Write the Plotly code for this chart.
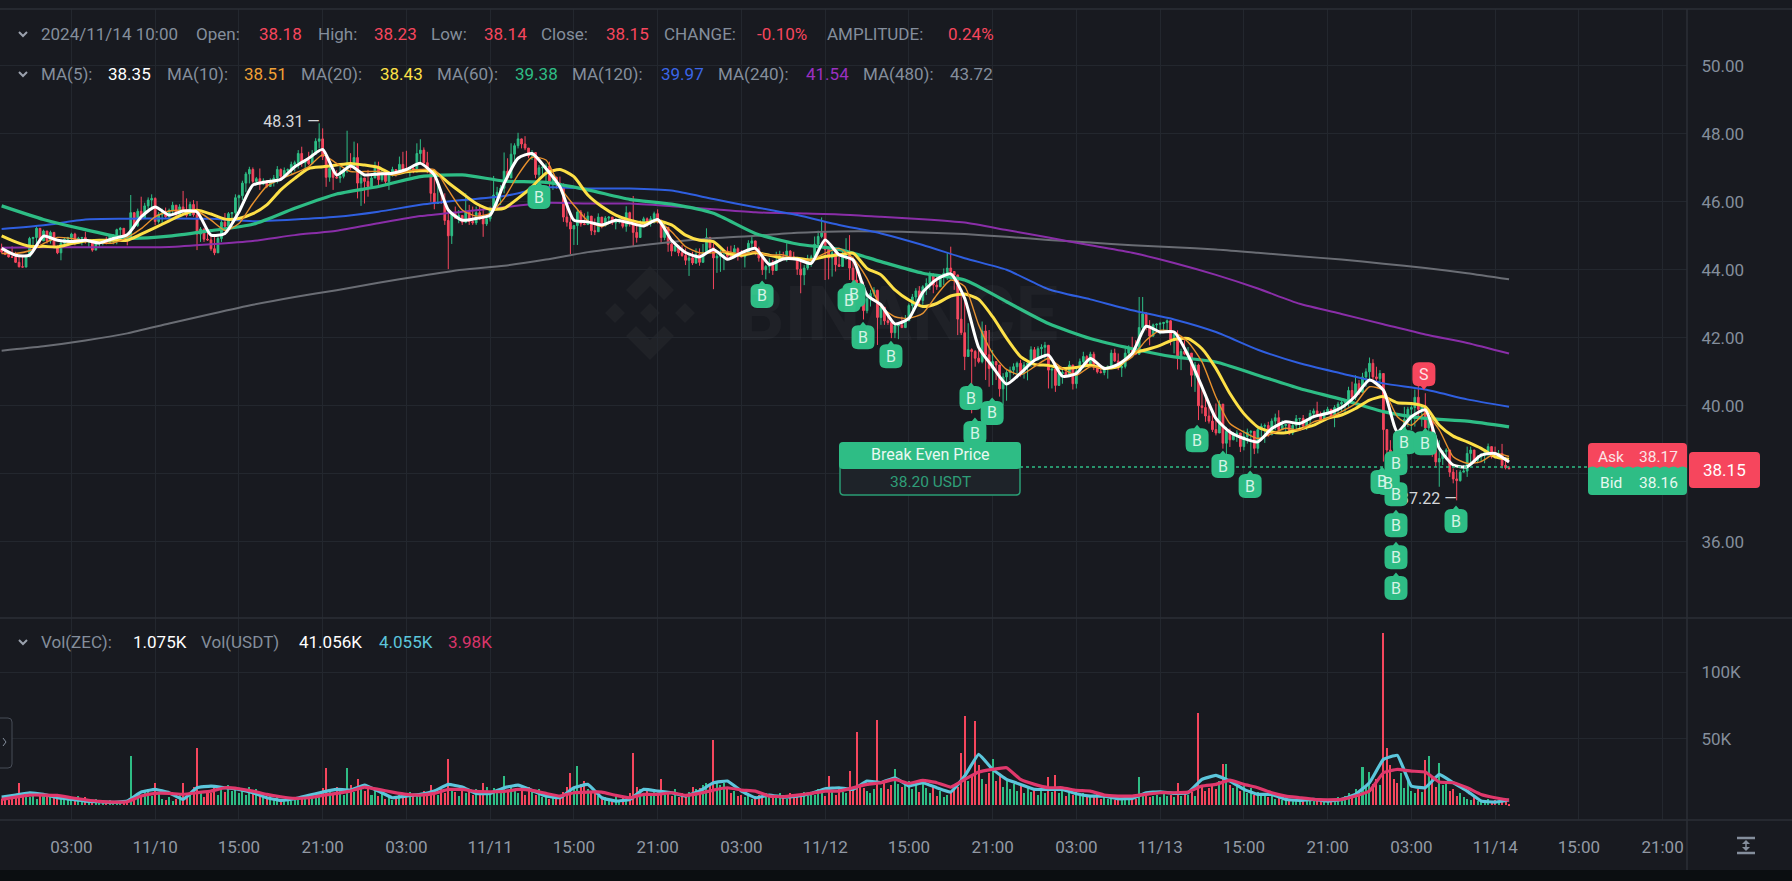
import plotly.graph_objects as go
import pandas as pd

W = 1792
H = 881
GREEN = "#2ebd85"
RED = "#f6465d"
GRAY = "#848e9c"
GRID = "#23272e"
EDGE = "#2b2f36"
BG = "#181a20"

# 15 minute candles
closes = [
    44.62,44.52,44.45,44.38,44.37,44.22,44.09,44.08,44.38,44.92,44.95,45.22,44.85,45.14,44.85,45.10,44.68,44.50,44.78,44.90,
    44.95,45.05,44.78,44.93,44.95,44.82,44.85,44.58,44.78,44.80,44.85,44.78,45.00,45.02,45.18,45.22,44.92,44.90,45.68,45.30,
    45.72,45.52,45.88,46.05,46.10,45.42,45.62,45.68,45.56,45.75,45.90,45.62,45.85,45.75,45.60,45.92,45.62,45.05,45.20,44.90,
    44.88,44.62,44.50,44.92,45.40,45.28,45.65,45.68,46.12,46.18,46.55,46.82,46.95,46.60,46.68,
    46.52,46.62,46.45,46.60,46.70,46.95,46.75,46.92,46.95,47.10,47.15,47.42,47.15,47.22,47.12,47.40,47.78,47.85,47.32,46.72,
    46.98,46.72,46.70,46.75,46.90,47.10,47.00,47.30,46.55,46.70,46.60,46.45,46.70,47.02,46.65,46.85,46.60,46.82,46.95,46.90,
    47.10,46.95,46.92,46.98,46.88,47.42,47.52,47.15,46.95,46.25,45.95,45.98,45.97,45.45,45.00,45.65,45.52,45.60,45.40,45.70,
    45.42,45.38,45.68,45.50,45.35,45.50,45.78,46.20,46.28,46.40,46.90,46.70,47.40,
    47.65,47.85,47.70,47.58,47.35,47.45,46.80,47.00,47.02,47.05,46.60,46.72,46.55,46.42,45.55,45.40,45.20,45.30,45.70,45.35,
    45.33,45.58,45.15,45.12,45.55,45.30,45.52,45.55,45.38,45.45,45.49,45.28,45.68,45.40,45.10,44.95,45.40,45.50,45.38,45.50,
    45.65,45.45,44.95,45.25,44.75,44.55,44.70,44.50,44.42,44.28,44.35,44.20,44.45,44.22,44.50,44.95,44.65,44.35,44.40,44.50,
    44.55,44.40,44.38,44.62,44.40,44.38,44.50,44.78,44.85,44.62,44.35,44.00,44.10,
    44.22,43.98,44.25,44.40,44.32,44.55,44.38,44.32,44.02,43.85,44.05,44.30,44.38,44.75,44.98,45.10,44.60,44.35,44.50,44.15,
    44.10,44.40,44.45,44.05,43.70,43.50,43.25,42.80,43.15,43.30,43.40,42.60,42.90,42.50,42.45,42.15,42.35,42.38,42.30,42.50,
    42.95,43.20,43.38,43.10,43.50,43.60,43.85,43.55,43.50,43.78,43.90,44.05,43.95,43.85,42.55,42.15,41.45,41.65,41.60,41.40,
    41.30,42.20,41.50,41.10,41.30,41.20,40.50,40.85,40.98,41.05,41.15,41.25,41.00,
    41.20,41.25,41.65,41.35,41.68,41.72,41.78,41.05,41.08,40.60,40.95,40.98,40.90,41.20,40.65,41.02,41.30,41.45,41.20,41.52,
    41.15,41.00,40.98,41.10,41.15,41.55,41.32,41.12,41.16,41.55,41.68,41.60,41.52,42.30,42.70,42.30,42.05,42.38,42.40,42.42,
    42.45,42.50,41.95,42.10,41.40,41.60,41.52,41.55,40.90,41.20,40.00,39.95,39.70,39.55,39.30,39.20,40.05,38.90,39.25,39.00,
    39.15,39.20,38.80,39.10,39.22,39.25,38.75,39.30,39.40,39.42,39.15,39.55,39.65,39.30,
    39.42,39.45,39.20,39.42,39.62,39.63,39.40,39.58,39.78,39.85,39.72,39.60,39.82,39.90,39.70,39.95,40.05,40.10,40.12,40.45,
    40.25,40.65,40.40,40.85,41.00,41.25,40.85,40.80,40.95,39.30,38.70,38.60,38.30,38.00,38.95,39.60,39.90,39.95,40.25,39.90,
    39.98,39.35,39.70,38.70,38.35,38.45,38.65,38.70,38.05,37.85,37.80,38.05,38.08,38.60,38.70,38.40,38.50,38.55,38.62,38.80,
    38.50,38.48,38.60,38.25,38.18,38.15,
]
highs = [
    44.67,44.77,44.58,44.53,44.69,44.53,44.38,44.38,44.43,44.97,44.97,45.28,45.16,45.18,45.02,45.15,44.87,44.72,44.82,44.95,
    44.97,45.09,45.09,44.97,44.97,45.12,44.88,44.87,44.82,44.82,44.87,44.97,45.02,45.04,45.21,45.26,45.10,45.02,46.20,45.70,
    45.80,46.15,45.97,46.13,46.22,46.13,45.70,45.80,45.83,45.80,46.00,45.90,45.93,46.32,46.10,46.00,46.05,46.02,45.26,45.21,
    45.21,45.02,45.02,44.97,45.46,45.67,45.70,45.70,46.22,46.21,46.62,46.88,47.03,47.01,46.73,
    46.98,46.69,46.59,46.69,46.79,47.05,46.98,47.01,46.98,47.18,47.21,47.52,47.62,47.25,47.47,47.52,47.87,48.31,48.16,47.38,
    47.03,46.89,46.93,47.08,46.98,48.09,47.43,47.77,47.72,46.84,46.64,46.94,46.84,47.18,47.18,46.94,46.89,46.89,47.03,46.94,
    47.33,47.47,47.50,47.01,47.08,47.72,47.84,47.60,47.47,46.89,46.84,46.59,46.35,46.25,45.66,45.70,45.86,45.76,45.56,46.25,
    45.91,45.86,45.86,45.86,45.76,45.56,45.86,46.76,46.44,46.49,47.45,47.28,47.72,
    47.72,48.03,47.86,47.93,47.57,47.52,47.37,47.08,47.08,47.13,47.18,46.79,46.74,46.74,46.54,45.85,45.66,45.32,45.76,45.76,
    45.66,45.71,45.51,45.51,45.66,45.36,45.58,45.58,45.51,45.51,45.51,45.48,45.87,45.71,46.17,45.36,45.46,45.56,45.54,45.58,
    45.71,45.78,45.48,45.36,45.07,44.83,44.83,44.73,44.73,44.63,44.43,44.53,44.63,44.63,44.76,45.22,44.97,44.78,44.48,44.58,
    44.58,44.68,44.71,44.73,44.66,44.58,44.53,44.87,45.02,44.68,44.68,44.43,44.14,
    44.34,44.29,44.53,44.56,44.53,44.78,44.58,44.53,44.29,44.29,44.14,44.44,44.44,44.98,45.15,45.54,45.42,44.58,44.58,44.58,
    44.39,44.53,44.93,45.02,44.39,44.04,43.80,43.65,43.26,43.41,43.49,43.41,43.01,42.82,42.67,42.57,42.43,42.43,42.62,42.67,
    43.01,43.29,43.46,43.52,43.55,43.75,43.95,43.90,43.85,43.85,44.04,44.49,44.68,43.95,43.80,43.36,43.21,42.43,41.69,41.64,
    41.64,42.48,42.38,42.23,41.64,41.25,41.05,40.96,41.05,41.15,41.25,41.30,41.35,
    41.29,41.29,41.75,41.73,41.75,41.81,41.88,41.71,41.10,41.00,41.05,41.10,41.10,41.32,41.05,41.10,41.39,41.59,41.49,41.59,
    41.59,41.24,41.19,41.16,41.19,41.65,41.68,41.54,41.19,41.68,41.78,42.03,41.93,43.20,43.20,42.76,42.52,42.42,42.42,42.47,
    42.47,42.54,42.52,42.17,42.22,41.68,41.93,41.73,41.34,41.29,41.24,40.46,40.36,40.02,39.77,40.07,40.16,39.53,39.38,39.33,
    39.23,39.28,39.18,39.28,39.33,39.28,39.18,39.38,39.48,39.48,39.53,39.63,39.77,39.87,
    39.58,39.48,39.43,39.48,39.73,39.63,39.73,39.63,39.88,39.92,40.12,39.83,39.88,39.97,39.88,40.02,40.12,40.15,40.17,40.56,
    40.71,40.90,40.76,40.97,41.10,41.42,41.37,41.15,41.05,40.66,39.14,38.99,38.80,38.70,39.19,39.97,39.97,40.02,40.48,40.58,
    40.02,40.37,39.78,39.14,38.80,38.99,38.70,38.75,38.50,38.16,38.11,38.11,38.26,38.80,38.80,38.70,38.55,38.60,38.70,38.89,
    38.80,38.80,38.70,38.88,38.50,38.23,
]
lows = [
    44.38,44.48,44.43,44.36,44.36,44.20,44.07,44.07,44.10,44.38,44.53,44.67,44.77,44.87,44.77,44.77,44.63,44.46,44.28,44.72,
    44.79,44.87,44.72,44.77,44.72,44.77,44.67,44.53,44.58,44.65,44.72,44.75,44.77,44.75,44.75,44.87,44.87,44.72,44.90,45.21,
    45.26,45.46,45.51,45.75,45.75,45.31,45.36,45.36,45.51,45.51,45.65,45.56,45.56,45.70,45.54,45.65,45.56,44.58,44.82,44.82,
    44.85,44.56,44.43,44.55,44.82,45.21,45.24,45.41,45.51,45.65,46.05,46.29,46.54,46.54,46.49,
    46.35,46.49,46.40,46.45,46.45,46.54,46.69,46.69,46.74,46.79,46.89,46.98,47.03,46.94,47.08,47.18,47.38,47.57,47.23,46.44,
    46.59,46.35,46.69,46.56,46.69,46.85,46.94,47.08,46.10,45.88,45.95,46.15,46.49,46.74,46.49,46.59,46.49,46.35,46.74,46.74,
    46.84,46.84,46.89,46.74,46.84,46.94,47.13,47.08,46.84,46.00,45.78,45.95,45.95,45.32,44.02,44.76,45.51,45.37,45.32,45.37,
    45.32,45.32,45.32,45.46,44.97,45.29,45.42,45.71,45.86,45.91,46.25,46.64,46.84,
    47.08,47.57,47.57,47.52,47.28,47.23,46.69,46.64,46.74,46.54,46.35,46.35,46.39,46.39,45.41,45.27,44.46,44.73,44.73,45.27,
    45.32,45.46,45.02,45.02,45.32,45.22,45.27,45.41,45.32,45.19,45.36,45.22,45.12,45.27,44.68,44.80,45.02,45.32,45.27,45.27,
    45.36,45.36,44.78,44.87,44.53,44.40,44.53,44.40,44.38,44.14,43.82,44.14,44.17,44.12,44.29,44.53,44.48,43.43,43.91,43.94,
    43.99,44.34,44.38,44.38,44.27,44.38,44.07,44.53,44.63,44.43,44.24,43.85,43.72,
    43.90,43.85,44.14,44.29,44.29,44.24,44.29,44.29,43.85,43.31,43.55,43.99,44.09,44.29,44.53,44.93,43.70,43.72,43.80,43.95,
    44.10,44.14,44.29,43.70,43.55,43.41,43.11,42.54,42.72,42.92,43.21,41.79,42.38,42.38,42.38,41.99,41.99,41.96,42.30,42.33,
    42.57,42.82,42.87,42.92,42.97,43.26,43.41,43.31,43.41,43.50,43.55,43.70,43.80,43.41,42.08,42.08,41.05,41.54,39.78,41.15,
    41.25,41.25,40.76,40.56,40.61,40.76,40.27,40.02,40.15,40.76,40.91,40.81,40.86,
    40.80,40.75,41.15,41.29,41.34,41.39,41.39,40.51,40.51,40.41,40.61,40.65,40.85,40.85,40.48,40.51,41.05,41.10,41.15,41.19,
    41.05,40.95,40.95,40.90,40.80,41.15,41.29,41.05,40.85,41.10,41.39,41.54,41.49,41.50,42.17,42.22,41.78,42.03,42.17,42.10,
    42.17,42.17,41.78,41.54,41.07,41.05,41.49,41.34,40.56,40.41,39.58,39.77,39.53,39.48,39.23,39.13,39.67,38.74,38.20,38.79,
    38.99,38.94,38.64,38.69,38.89,38.20,38.58,38.60,39.09,38.91,39.09,39.18,39.28,39.28,
    39.29,39.19,39.14,39.14,39.29,39.34,39.34,39.29,39.43,39.63,39.68,39.53,39.68,39.73,39.63,39.37,39.78,39.83,39.78,39.97,
    40.12,40.17,40.32,40.46,40.56,40.71,40.76,40.71,40.56,38.36,38.40,38.36,38.11,37.82,38.50,39.29,39.38,39.29,39.39,39.68,
    39.39,39.14,39.19,38.50,38.21,37.62,38.26,38.40,37.91,37.72,37.22,37.77,38.06,37.91,38.31,38.36,38.31,38.36,38.31,38.50,
    38.45,38.45,38.45,38.16,38.13,38.14,
]
first_open = 44.45
opens = [first_open] + closes[:-1]  # each candle opens at the previous close

# volume in thousands
volumes = [
    6,
    5,6,4,8,6,17,7,9,6,8,5,8,9,7,8,6,8,5,7,6,
    6,5,7,4,6,5,4,5,3,4,3,4,3,3,2,3,2,37,6,9,
    8,10,12,7,17,9,5,4,6,3,5,8,17,6,9,14,43,10,6,11,
    9,14,8,12,10,15,11,13,9,12,8,14,10,12,7,9,6,8,5,7,
    5,4,6,3,4,5,6,7,5,8,6,9,13,28,11,9,14,12,8,28,
    15,10,20,13,11,14,8,12,7,9,5,7,4,6,8,9,6,10,7,8,
    8,11,9,15,10,8,13,9,34.5,12,10,7,14,9,11,8,12,10,17,14,
    9,13,10,12,22,11,15,12,9,13,8,14,10,8,12,6,9,5,7,6,
    8,10,14,24,12,29.5,16,18,12,10,9,7,5,6,4,5,6,4,7,5,
    9,39,14,12,9,13,7,11,9,20,8,10,7,12,6,9,8,10,14,12,
    13,15,17,16,49,18,15,17,12,9,11,7,8,6,9,5,7,8,6,9,
    7,8,6,9,8,5,9,7,8,6,10,7,9,8,12,9,7,22,10,8,
    12,10,9,26,14,55,16,13,11,9,12,64,13,17,12,15,27,16,14,17,
    18,12,15,10,16,13,9,14,7,11,6,8,9,12,14,39,67,18,22,63,
    30,20,16,24,35,18,22,14,19,12,16,11,15,9,14,10,13,8,12,9,
    21,10,23,9,11,7,12,8,10,7,9,6,8,7,9,5,7,5,6,4,
    6,5,7,4,6,5,21,7,8,6,7,8,6,9,7,8,6,17,7,9,
    8,10,7,69,14,11,13,16,12,18,31,31,15,13,18,11,16,9,13,8,
    10,7,9,6,8,5,7,4,6,4,5,3,5,4,3,5,3,4,3,5,
    3,4,3,6,5,7,9,8,12,10,29,14,25,16,20,15,129,43,30,20,
    17,24,13,18,11,9,12,10,34,37,22,14,32,15,18,11,12,7,9,6,
    5,4,6,3,4,3,5,2,4,3,5,3,1.075,
]

# moving averages, one reading per hour
ma5 = [
    44.63,44.43,44.43,44.99,44.87,44.83,44.87,44.79,44.92,45.03,45.56,45.85,45.61,45.73,45.70,45.02,45.07,45.70,46.49,
    46.59,46.66,47.03,47.28,47.54,46.79,47.05,46.79,46.82,46.84,46.95,47.13,46.79,45.76,45.46,45.51,45.61,46.54,
    47.28,47.42,46.98,46.44,45.46,45.41,45.32,45.46,45.38,45.29,45.48,44.87,44.51,44.38,44.60,44.31,44.50,44.63,44.16,
    44.32,44.31,44.19,44.88,44.44,44.29,43.26,42.97,42.41,42.57,43.34,43.72,43.88,43.16,41.72,41.15,40.64,40.96,
    41.34,41.49,40.87,40.95,41.39,41.10,41.22,41.54,42.34,42.17,42.17,41.49,40.56,39.63,39.23,39.04,38.94,39.33,
    39.53,39.48,39.68,39.78,39.95,40.29,40.76,40.46,39.24,39.68,39.88,38.75,38.26,38.21,38.55,38.60,38.35,
]
ma10 = [
    44.48,44.48,44.56,44.77,44.95,44.92,44.85,44.79,44.79,44.95,45.21,45.56,45.73,45.75,45.73,45.46,45.16,45.36,45.95,
    46.46,46.67,46.84,47.03,47.38,47.13,46.89,46.89,46.89,46.79,46.89,46.95,46.95,46.35,45.76,45.58,45.66,46.10,
    46.79,47.31,47.23,46.44,45.90,45.44,45.27,45.46,45.41,45.32,45.44,45.12,44.68,44.50,44.50,44.53,44.46,44.53,44.43,
    44.44,44.29,44.29,44.49,44.63,44.34,43.75,42.92,42.62,42.57,42.72,43.26,43.70,43.51,42.38,41.54,41.07,40.91,
    41.15,41.39,41.10,40.90,41.15,41.10,41.19,41.44,41.93,42.22,42.17,41.88,41.29,40.26,39.48,39.23,39.04,39.18,
    39.34,39.29,39.53,39.63,39.83,40.07,40.56,40.46,39.68,39.43,39.78,39.29,38.50,38.31,38.36,38.60,38.51,
]
ma20 = [
    45.00,44.82,44.69,44.69,44.67,44.77,44.85,44.87,44.87,44.87,45.05,45.24,45.44,45.63,45.75,45.64,45.49,45.51,45.65,
    45.91,46.35,46.69,46.98,47.03,47.08,47.13,47.08,47.01,46.81,46.88,46.91,46.89,46.56,46.25,45.95,45.78,45.81,
    46.10,46.44,46.84,46.95,46.74,46.20,45.86,45.61,45.46,45.38,45.44,45.32,45.02,44.87,44.83,44.48,44.43,44.50,44.43,
    44.34,44.34,44.29,44.39,44.44,44.49,44.04,43.85,43.41,43.11,42.92,43.01,43.23,43.29,43.13,42.62,41.99,41.45,
    41.22,41.19,41.10,41.13,41.19,41.10,41.15,41.54,41.65,41.78,41.95,41.98,41.68,41.10,40.36,39.77,39.38,39.23,
    39.21,39.31,39.43,39.63,39.73,39.92,40.17,40.27,40.09,40.07,39.97,39.43,39.11,38.94,38.75,38.50,38.43,
]

# slow averages, one reading every three hours
ma60 = [45.88,45.48,45.18,44.93,44.99,45.15,45.34,45.81,46.23,46.45,46.74,46.79,46.61,46.57,46.35,46.07,45.93,45.66,45.07,
        44.76,44.60,44.24,43.90,43.70,43.06,42.42,41.98,41.68,41.44,41.29,40.90,40.51,40.19,39.83,39.63,39.55,39.38]
ma120 = [45.20,45.31,45.48,45.50,45.51,45.50,45.43,45.48,45.56,45.71,45.91,46.05,46.17,46.42,46.39,46.39,46.33,46.08,45.84,
         45.61,45.32,45.07,44.73,44.34,44.00,43.43,43.13,42.81,42.54,42.17,41.65,41.25,40.95,40.66,40.48,40.19,39.97]
ma240 = [44.65,44.66,44.66,44.66,44.67,44.75,44.85,45.02,45.15,45.37,45.58,45.71,45.84,45.97,45.95,45.95,45.87,45.78,45.69,
         45.66,45.63,45.56,45.49,45.39,45.17,44.95,44.72,44.50,44.20,43.85,43.45,43.00,42.70,42.40,42.10,41.85,41.54]
ma480 = [41.62,41.75,41.92,42.13,42.42,42.70,42.97,43.20,43.40,43.62,43.82,44.00,44.12,44.30,44.52,44.68,44.82,44.93,45.00,
         45.09,45.13,45.13,45.10,45.05,44.97,44.88,44.80,44.72,44.66,44.60,44.50,44.40,44.30,44.18,44.05,43.90,43.72]

# volume averages, one reading per hour, thousands
vol_ma_fast = [
    6.25,7.75,9.5,8.25,5.75,4.5,3.25,2.75,2.25,3.25,10,12,9.5,4.5,13.25,14.5,13.25,12,9.5,5.75,
    3.75,5,7.5,10,12,11.5,15.25,10.75,5.75,7,8.25,10.75,15.75,13.75,9,9,13.25,15.25,11.25,7,
    5.75,13.25,15.75,5.75,3.25,4.5,12,10.75,9.5,7,10.75,17,18.25,10.75,5.75,7.75,6.25,7,
    9,12.5,13.25,12,18.25,17,20.75,14.5,17,13.25,10,22,38.25,27,19.5,15.75,12,12,12,8.75,
    7,7,5,5.25,9.5,10.25,9,9.5,19.5,22.5,18.25,12,8.25,8.25,4.5,3.75,4.5,3.25,4.5,8.25,
    17,34.5,37.5,14.5,13.25,23.25,17,10.75,3.25,2.5,4.055,
]
vol_ma_slow = [
    4.5,6.25,7.75,7.75,7.5,5.75,4.25,3,2.5,2.75,7,9,9,8.25,9.5,10.75,13.25,12.5,10.75,8.25,
    6.5,5.25,5.75,7.5,9,10.75,13.75,12,10,8.25,7.75,9,12,12,10.5,10.25,10.5,12,11.25,9,
    7,9.5,10,10,7.5,5.75,8.25,8.25,9.5,7.5,9,11.5,13.25,11.5,10.75,7,6.5,7.75,
    9,10.75,10.75,13.25,15.75,17,19.5,16.5,18.75,17,13.75,19.5,25,27,28.25,19.5,15.75,13.25,13.25,11.25,
    10.75,7.75,7,7,8.25,9.5,9.5,10,14.5,15.75,19,15.75,13.25,9.5,7,5.75,4.5,4.25,4.5,7,
    10.75,24.5,27,25.75,25,17.5,17,13.25,8.25,5.75,3.98,
]

x_ticks = ["2024-11-10 03:00","2024-11-10 09:00","2024-11-10 15:00","2024-11-10 21:00","2024-11-11 03:00",
           "2024-11-11 09:00","2024-11-11 15:00","2024-11-11 21:00","2024-11-12 03:00","2024-11-12 09:00",
           "2024-11-12 15:00","2024-11-12 21:00","2024-11-13 03:00","2024-11-13 09:00","2024-11-13 15:00",
           "2024-11-13 21:00","2024-11-14 03:00","2024-11-14 09:00","2024-11-14 15:00","2024-11-14 21:00"]
x_labels = ["03:00","11/10","15:00","21:00","03:00","11/11","15:00","21:00","03:00","11/12",
            "15:00","21:00","03:00","11/13","15:00","21:00","03:00","11/14","15:00","21:00"]
price_ticks = [36, 38, 40, 42, 44, 46, 48, 50]
price_labels = ["36.00", "", "40.00", "42.00", "44.00", "46.00", "48.00", "50.00"]

# order markers on the chart
buy_times = ["2024-11-11 12:30","2024-11-12 04:29","2024-11-12 10:43","2024-11-12 11:04","2024-11-12 11:43",
             "2024-11-12 13:43","2024-11-12 19:27","2024-11-12 20:58","2024-11-12 19:44","2024-11-13 11:39",
             "2024-11-13 13:30","2024-11-13 15:27","2024-11-14 00:54","2024-11-14 01:21","2024-11-14 01:54",
             "2024-11-14 01:54","2024-11-14 01:54","2024-11-14 01:54","2024-11-14 01:54","2024-11-14 02:30",
             "2024-11-14 04:00","2024-11-14 06:12"]
buy_prices = [46.14,43.23,43.11,43.26,42.02,41.46,40.23,39.79,39.20,38.99,38.23,37.64,
              37.76,37.73,38.31,37.40,36.49,35.55,34.64,38.93,38.90,36.61]
sell_times = ["2024-11-14 03:54"]
sell_prices = [40.93]
break_even = 38.20

assert len(closes) == len(highs) == len(lows) == len(volumes), (len(closes), len(highs), len(lows), len(volumes))
assert len(ma5) == len(ma10) == len(ma20) == len(vol_ma_fast) == len(vol_ma_slow) == 109
assert len(ma60) == len(ma120) == len(ma240) == len(ma480) == 37

times = pd.date_range(end="2024-11-14 10:00", periods=len(closes), freq="15min")
hours = pd.date_range("2024-11-09 22:00", periods=109, freq="h")
slow_hours = pd.date_range("2024-11-09 22:00", periods=37, freq="3h")


def px(x):
    return x / W


def py(y):
    return 1 - y / H


def rrect(x0, y0, x1, y1, r=4):
    return (f"M{px(x0+r)},{py(y0)} L{px(x1-r)},{py(y0)} Q{px(x1)},{py(y0)} {px(x1)},{py(y0+r)} "
            f"L{px(x1)},{py(y1-r)} Q{px(x1)},{py(y1)} {px(x1-r)},{py(y1)} L{px(x0+r)},{py(y1)} "
            f"Q{px(x0)},{py(y1)} {px(x0)},{py(y1-r)} L{px(x0)},{py(y0+r)} Q{px(x0)},{py(y0)} {px(x0+r)},{py(y0)} Z")


def poly(points):
    return "M" + " L".join(f"{px(a)},{py(b)}" for a, b in points) + " Z"


def open_line(points):
    return "M" + " L".join(f"{px(a)},{py(b)}" for a, b in points)


fig = go.Figure()

fig.add_trace(go.Candlestick(
    x=times, open=opens, high=highs, low=lows, close=closes, xaxis="x", yaxis="y",
    increasing=dict(line=dict(color=GREEN, width=1), fillcolor=GREEN),
    decreasing=dict(line=dict(color=RED, width=1), fillcolor=RED),
    whiskerwidth=0, showlegend=False, hoverinfo="skip",
))

price_lines = [
    (slow_hours, ma480, "#6a6d74", 2),
    (slow_hours, ma240, "#8a2ea8", 2),
    (slow_hours, ma120, "#2f5fe0", 2),
    (slow_hours, ma60, "#2ebd85", 3.2),
    (hours, ma20, "#fde047", 3),
    (hours, ma10, "#e8912d", 1.4),
    (hours, ma5, "#ffffff", 3),
]
for xs, ys, color, width in price_lines:
    fig.add_trace(go.Scatter(x=xs, y=ys, mode="lines", xaxis="x", yaxis="y", showlegend=False, hoverinfo="skip",
                             line=dict(color=color, width=width, shape="spline", smoothing=0.6)))

# high and low labels sit in a trace so that the badges can cover them
fig.add_trace(go.Scatter(x=["2024-11-10 20:48"], y=[48.31], mode="text", text=["48.31 —"], textposition="middle left",
                         textfont=dict(family="Roboto", size=16, color="#d5d7da"), xaxis="x", yaxis="y",
                         showlegend=False, hoverinfo="skip", cliponaxis=False))
fig.add_trace(go.Scatter(x=["2024-11-14 06:15"], y=[37.22], mode="text", text=["37.22 —"], textposition="middle left",
                         textfont=dict(family="Roboto", size=16, color="#d5d7da"), xaxis="x", yaxis="y",
                         showlegend=False, hoverinfo="skip", cliponaxis=False))

bar_colors = [GREEN if c >= o else RED for c, o in zip(closes, opens)]
fig.add_trace(go.Bar(x=times, y=volumes, marker=dict(color=bar_colors, line_width=0), width=520000,
                     xaxis="x", yaxis="y2", showlegend=False, hoverinfo="skip"))
fig.add_trace(go.Scatter(x=hours, y=vol_ma_fast, mode="lines", xaxis="x", yaxis="y2", showlegend=False, hoverinfo="skip",
                         line=dict(color="#5cc6dc", width=3.2, shape="spline", smoothing=0.3)))
fig.add_trace(go.Scatter(x=hours, y=vol_ma_slow, mode="lines", xaxis="x", yaxis="y2", showlegend=False, hoverinfo="skip",
                         line=dict(color="#e0386c", width=3.2, shape="spline", smoothing=0.3)))

shapes = []
annotations = []


def txt(x, y, s, color=GRAY, size=17, anchor="left", weight=None):
    annotations.append(dict(x=px(x), y=py(y), xref="paper", yref="paper", text=s, showarrow=False, xanchor=anchor,
                            yanchor="middle", borderpad=0,
                            font=dict(family="Roboto", size=size, color=color, weight=weight)))


# watermark
faint = "rgba(255,255,255,0.035)"
cx, cy = 650, 313
for part in ([(0, -47), (24, -23), (14, -13), (0, -27), (-14, -13), (-24, -23)],
             [(0, 47), (24, 23), (14, 13), (0, 27), (-14, 13), (-24, 23)],
             [(0, -10), (10, 0), (0, 10), (-10, 0)],
             [(-35, -10), (-25, 0), (-35, 10), (-45, 0)],
             [(35, -10), (45, 0), (35, 10), (25, 0)]):
    shapes.append(dict(type="path", xref="paper", yref="paper", layer="below", line_width=0, fillcolor=faint,
                       path=poly([(cx + a, cy + b) for a, b in part])))
annotations.append(dict(x=px(897), y=py(314), xref="paper", yref="paper", text="BINANCE", showarrow=False,
                        font=dict(family="Roboto", size=76, color="rgba(255,255,255,0.03)", weight=700)))

# pane borders
for y in (9, 618, 820):
    shapes.append(dict(type="line", xref="paper", yref="paper", x0=0, x1=1, y0=py(y), y1=py(y),
                       line=dict(color=EDGE, width=1.5)))
shapes.append(dict(type="line", xref="paper", yref="paper", x0=px(1687), x1=px(1687), y0=py(9), y1=py(870),
                   line=dict(color=EDGE, width=1.5)))
shapes.append(dict(type="rect", xref="paper", yref="paper", x0=0, x1=1, y0=0, y1=py(870),
                   line_width=0, fillcolor="#0b0e11"))

# break even line and label
shapes.append(dict(type="line", xref="paper", yref="y", x0=px(1020), x1=px(1588), y0=break_even, y1=break_even,
                   line=dict(color=GREEN, width=1.5, dash="dot")))
shapes.append(dict(type="path", xref="paper", yref="paper", fillcolor="#1e2329", line=dict(color="#2a9d74", width=1.5),
                   path=rrect(840, 460, 1020, 495)))
shapes.append(dict(type="path", xref="paper", yref="paper", fillcolor=GREEN, line_width=0, path=rrect(839, 442, 1021, 469)))
txt(930, 455, "Break Even Price", "#eaf8f2", 16, "center")
txt(930, 482, f"{break_even:.2f} USDT", "#2f9e78", 15.5, "center")

# order badges
up_badge = ("M-5,12 L-3,12 L0,15.5 L3,12 L5,12 Q11.5,12 11.5,5.5 L11.5,-5.5 Q11.5,-12 5,-12 L-5,-12 "
            "Q-11.5,-12 -11.5,-5.5 L-11.5,5.5 Q-11.5,12 -5,12 Z")
down_badge = ("M-5,-12 L-3,-12 L0,-15.5 L3,-12 L5,-12 Q11.5,-12 11.5,-5.5 L11.5,5.5 Q11.5,12 5,12 L-5,12 "
              "Q-11.5,12 -11.5,5.5 L-11.5,-5.5 Q-11.5,-12 -5,-12 Z")
for t, p in zip(buy_times, buy_prices):
    shapes.append(dict(type="path", xref="x", yref="y", xsizemode="pixel", ysizemode="pixel", xanchor=t, yanchor=p,
                       path=up_badge, fillcolor=GREEN, line_width=0))
    annotations.append(dict(x=t, y=p, xref="x", yref="y", text="B", showarrow=False,
                            font=dict(family="Roboto", size=16, color="#d4f3e5")))
for t, p in zip(sell_times, sell_prices):
    shapes.append(dict(type="path", xref="x", yref="y", xsizemode="pixel", ysizemode="pixel", xanchor=t, yanchor=p,
                       path=down_badge, fillcolor=RED, line_width=0))
    annotations.append(dict(x=t, y=p, xref="x", yref="y", text="S", showarrow=False,
                            font=dict(family="Roboto", size=16, color="#fde3e6")))

# ask / bid / last tags
shapes.append(dict(type="path", xref="paper", yref="paper", fillcolor=RED, line_width=0, path=rrect(1588, 443, 1687, 475)))
scallop = "M" + f"{px(1588)},{py(468)}"
for i in range(11):
    a = 1588 + 9 * i
    scallop += f" Q{px(a + 4.5)},{py(465)} {px(a + 9)},{py(468)}"
scallop += f" L{px(1687)},{py(491)} Q{px(1687)},{py(495)} {px(1683)},{py(495)} L{px(1592)},{py(495)} Q{px(1588)},{py(495)} {px(1588)},{py(491)} Z"
shapes.append(dict(type="path", xref="paper", yref="paper", fillcolor=GREEN, line_width=0, path=scallop))
shapes.append(dict(type="path", xref="paper", yref="paper", fillcolor=RED, line_width=0, path=rrect(1689, 452, 1760, 488)))
txt(1597, 457, "Ask", "#fbe4e7", 15.5)
txt(1679, 457, "38.17", "#fbe4e7", 15.5, "right")
txt(1599, 483, "Bid", "#e6f8f0", 15.5)
txt(1679, 483, "38.16", "#e6f8f0", 15.5, "right")
txt(1724, 470, "38.15", "#ffffff", 17, "center")

# legend rows
row1 = [(40, "2024/11/14 10:00", GRAY), (195, "Open:", GRAY), (258, "38.18", RED), (316.5, "High:", GRAY), (373, "38.23", RED),
        (430, "Low:", GRAY), (483, "38.14", RED), (540, "Close:", GRAY), (605, "38.15", RED), (663, "CHANGE:", GRAY),
        (756, "-0.10%", RED), (826, "AMPLITUDE:", GRAY), (947, "0.24%", RED)]
row2 = [(40, "MA(5):", GRAY), (107, "38.35", "#ffffff"), (165.6, "MA(10):", GRAY), (243, "38.51", "#f0a035"),
        (300, "MA(20):", GRAY), (379, "38.43", "#fde047"), (436, "MA(60):", GRAY), (514, "39.38", GREEN),
        (571, "MA(120):", GRAY), (660, "39.97", "#3b66e8"), (716.5, "MA(240):", GRAY), (805, "41.54", "#9b30c0"),
        (862, "MA(480):", GRAY), (949, "43.72", GRAY)]
row3 = [(40, "Vol(ZEC):", GRAY), (131.6, "1.075K", "#ffffff"), (200, "Vol(USDT)", GRAY), (298, "41.056K", "#ffffff"),
        (378, "4.055K", "#5cc6dc"), (447, "3.98K", "#d9356a")]
for y, row in ((34, row1), (74, row2), (642, row3)):
    for x, s, c in row:
        txt(x, y, s, c, 17)
    shapes.append(dict(type="path", xref="paper", yref="paper", line=dict(color="#9aa1ad", width=2),
                       path=open_line([(19, y - 2), (23, y + 2), (27, y - 2)])))

# side tab and scale icon
shapes.append(dict(type="path", xref="paper", yref="paper", line=dict(color="#474d57", width=1), fillcolor=BG,
                   path=rrect(-6, 718, 12, 768)))
shapes.append(dict(type="path", xref="paper", yref="paper", line=dict(color="#848e9c", width=1),
                   path=open_line([(3, 738), (6, 742), (3, 746)])))
for y in (838, 853):
    shapes.append(dict(type="line", xref="paper", yref="paper", x0=px(1737), x1=px(1755), y0=py(y), y1=py(y),
                       line=dict(color="#848e9c", width=2.5)))
shapes.append(dict(type="line", xref="paper", yref="paper", x0=px(1746), x1=px(1746), y0=py(841), y1=py(850),
                   line=dict(color="#848e9c", width=1.5)))
shapes.append(dict(type="path", xref="paper", yref="paper", line_width=0, fillcolor="#848e9c",
                   path=poly([(1742, 844), (1746, 840), (1750, 844)])))
shapes.append(dict(type="path", xref="paper", yref="paper", line_width=0, fillcolor="#848e9c",
                   path=poly([(1742, 847), (1746, 851), (1750, 847)])))

fig.update_layout(
    width=W, height=H, margin=dict(l=0, r=0, t=0, b=0), autosize=False,
    paper_bgcolor=BG, plot_bgcolor="rgba(0,0,0,0)", boxgap=0.3, bargap=0, hovermode=False,
    shapes=shapes, annotations=annotations, font=dict(family="Roboto", color=GRAY),
    xaxis=dict(domain=[0, 1687 / W], anchor="y2", type="date", range=["2024-11-09 21:53", "2024-11-14 22:45"],
               tickmode="array", tickvals=x_ticks, ticktext=x_labels, tickfont=dict(size=17, color="#9299a4"),
               showgrid=True, gridcolor=GRID, gridwidth=1, zeroline=False, showline=False,
               ticks="outside", ticklen=12, tickcolor="rgba(0,0,0,0)", rangeslider=dict(visible=False)),
    yaxis=dict(domain=[py(618), py(9)], anchor="x", side="right", range=[33.76, 51.67], tickmode="array",
               tickvals=price_ticks, ticktext=price_labels, tickfont=dict(size=17, color="#848e9c"),
               showgrid=True, gridcolor=GRID, gridwidth=1, zeroline=False, showline=False, ticks="outside",
               ticklen=10, tickcolor="rgba(0,0,0,0)"),
    yaxis2=dict(domain=[py(820), py(618)], anchor="x", side="right", range=[-10.94, 140.5], tickmode="array",
                tickvals=[50, 100], ticktext=["50K", "100K"], tickfont=dict(size=17, color="#848e9c"),
                showgrid=True, gridcolor=GRID, gridwidth=1, zeroline=False, showline=False, ticks="outside",
                ticklen=10, tickcolor="rgba(0,0,0,0)"),
)

fig.write_html("out.html", config={"displayModeBar": False},
               post_script="document.body.style.margin='0';document.body.style.background='#181a20';")
